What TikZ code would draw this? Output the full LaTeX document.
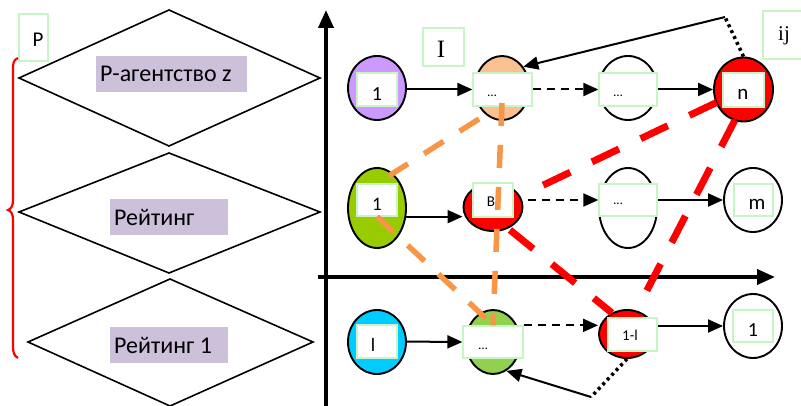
\documentclass[tikz,border=0pt]{standalone}
\usepackage{fontspec}
\setmainfont{Carlito}
\newfontfamily\timesf{Liberation Serif}
\usetikzlibrary{shapes.geometric,arrows.meta,calc}
\pgfdeclarelayer{bg}
\pgfsetlayers{bg,main}
\definecolor{bxg}{RGB}{200,245,200}
\definecolor{lilac}{RGB}{204,192,218}
\definecolor{purp}{RGB}{204,153,255}
\definecolor{peach}{RGB}{250,192,143}
\definecolor{lime}{RGB}{153,204,0}
\definecolor{lgreen}{RGB}{146,208,80}
\definecolor{cyanb}{RGB}{0,204,255}
\definecolor{orng}{RGB}{247,150,70}
\begin{document}
\begin{tikzpicture}[x=1pt,y=-1pt,
  ell/.style={ellipse,draw,line width=1.9pt,inner sep=0pt},
  bx/.style={draw=bxg,fill=white,line width=1.3pt,inner sep=0pt},
  lab/.style={fill=lilac,inner xsep=4pt,inner ysep=0pt,minimum height=36pt,font=\fontsize{24}{26}\selectfont},
  tagbox/.style={draw=bxg,fill=white,line width=1.3pt,inner sep=0pt},
  tx/.style={inner sep=0pt},
  dotsx/.style={inner sep=0pt,anchor=base,font=\fontsize{13}{13}\selectfont},
  arr/.style={line width=2pt,-{Triangle[length=15pt,width=13pt]}},
  darr/.style={line width=2pt,dash pattern=on 8pt off 6pt,-{Triangle[length=15pt,width=13pt]}},
  axisarr/.style={line width=3.8pt,-{Triangle[length=18pt,width=15pt]}},
  dotl/.style={line width=3.5pt,dash pattern=on 3pt off 3.5pt},
  orl/.style={draw=orng,line width=5.5pt,dash pattern=on 23pt off 19pt},
  rdl/.style={draw=red,line width=7pt,dash pattern=on 30pt off 24pt}]
\useasboundingbox (0,0) rectangle (801,406);

% diamonds
\draw[line width=1.6pt] (19,78) -- (169,10) -- (320,78) -- (169,146) -- cycle;
\draw[line width=1.6pt] (19,212) -- (169,153) -- (320,212) -- (169,273) -- cycle;
\draw[line width=1.6pt] (28,342) -- (170,279) -- (313,342) -- (170,406) -- cycle;
\node[lab] (l1) at (171.5,74) {\makebox[143pt][l]{Р-агентство z}};
\node[lab] (l2) at (169,217) {\makebox[110pt][l]{Рейтинг}};
\node[lab] (l3) at (169,345) {\makebox[110pt][l]{Рейтинг 1}};

% P box and brace
\node[tagbox,minimum width=29pt,minimum height=47pt] (pbox) at (33.5,37.5) {};
\node[tx,font=\fontsize{21}{21}\selectfont] (ptxt) at (38,40) {P};
\draw[red,line width=2.2pt] (18,58) .. controls (13,60) and (13,64) .. (13,70) -- (13,200)
  .. controls (13,206) and (11,209) .. (8,210) .. controls (11,211) and (13,214) .. (13,220)
  -- (13,346) .. controls (13,352) and (14,356) .. (18,358);

% axes
\coordinate (yb) at (326,406);
\coordinate (yt) at (326,10);
\coordinate (xl) at (318,277);
\coordinate (xr) at (775,277);
\draw[axisarr] (yb) -- (yt);
\draw[axisarr] (xl) -- (xr);

% I and ij
\node[tagbox,minimum width=41pt,minimum height=38pt] (ibox) at (443.5,47) {};
\node[tx,font=\timesf\fontsize{25}{25}\selectfont] (itxt) at (441,49) {I};
\node[tagbox,minimum width=40pt,minimum height=48pt] (ijbox) at (783,35) {};
\node[tx,font=\timesf\fontsize{21}{21}\selectfont] (ijtxt) at (784,36) {ij};

% row 1
\node[ell,fill=purp,minimum width=58pt,minimum height=64pt] (a1) at (377,88) {};
\node[bx,minimum width=40pt,minimum height=33pt] (a1b) at (377,89.5) {};
\node[ell,fill=peach,minimum width=54pt,minimum height=64pt] (b1) at (502,88) {};
\node[bx,minimum width=59pt,minimum height=33pt] (b1b) at (502.5,89.5) {};
\node[ell,fill=white,minimum width=58pt,minimum height=64pt] (c1) at (628,88) {};
\node[bx,minimum width=58pt,minimum height=33pt] (c1b) at (628,89.5) {};
\node[ell,fill=red,minimum width=59pt,minimum height=64pt] (d1) at (743.5,89.5) {};
\node[bx,minimum width=41pt,minimum height=34pt] (d1b) at (743.5,90) {};
% row 2
\node[ell,fill=lime,minimum width=58pt,minimum height=80pt] (a2) at (377,208) {};
\node[bx,minimum width=40pt,minimum height=32pt] (a2b) at (377,200) {};
\node[ell,fill=red,minimum width=59pt,minimum height=48pt] (b2) at (493,207) {};
\node[bx,minimum width=40pt,minimum height=34pt] (b2b) at (493,200) {};
\node[ell,fill=white,minimum width=58pt,minimum height=80pt] (c2) at (628,208) {};
\node[bx,minimum width=58pt,minimum height=32pt] (c2b) at (628,200) {};
\node[ell,fill=white,minimum width=58pt,minimum height=64pt] (d2) at (753,200) {};
\node[bx,minimum width=39pt,minimum height=32pt] (d2b) at (753.5,200) {};
% row 3
\node[ell,fill=cyanb,minimum width=58pt,minimum height=64pt] (a3) at (377,342) {};
\node[bx,minimum width=40pt,minimum height=33pt] (a3b) at (377,341.5) {};
\node[ell,fill=lgreen,minimum width=54pt,minimum height=64pt] (b3) at (493,342) {};
\node[bx,minimum width=60pt,minimum height=32pt] (b3b) at (493,342) {};
\node[ell,fill=red,minimum width=56pt,minimum height=48pt] (c3) at (627,334) {};
\node[bx,minimum width=49pt,minimum height=33pt] (c3b) at (632.5,334.5) {};
\node[ell,fill=white,minimum width=58pt,minimum height=64pt] (d3) at (753,326) {};
\node[bx,minimum width=40pt,minimum height=32pt] (d3b) at (753,326) {};

% texts
\node[tx,font=\fontsize{20}{20}\selectfont] (a1t) at (377,94) {1};
\node[dotsx] (b1t) at (492,97) {…};
\node[dotsx] (c1t) at (618,97) {…};
\node[tx,font=\fontsize{21}{21}\selectfont] (d1t) at (743,94.5) {n};
\node[tx,font=\fontsize{19}{19}\selectfont] (a2t) at (377,204) {1};
\node[tx,font=\fontsize{15}{15}\selectfont] (b2t) at (491,202) {B};
\node[dotsx] (c2t) at (618,205) {…};
\node[tx,font=\fontsize{21}{21}\selectfont] (d2t) at (757,204) {m};
\node[tx,font=\fontsize{19}{19}\selectfont] (a3t) at (373,345) {l};
\node[dotsx] (b3t) at (483,349) {…};
\node[tx,font=\fontsize{15}{15}\selectfont] (c3t) at (630,335) {1-l};
\node[tx,font=\fontsize{20}{20}\selectfont] (d3t) at (753,330) {1};

% connectors behind nodes
\begin{pgfonlayer}{bg}
\draw[arr] (a1b.east) -- (b1b.west);
\draw[darr] (b1b.east) -- (c1b.west);
\draw[arr] (c1b.east) -- (d1.west);
\draw[arr] (a2b.south east) -- (a2b.south east -| b2.west);
\draw[darr] (b2b.east) -- (c2b.west);
\draw[arr] (c2b.east) -- (d2.west);
\draw[arr] (a3b.east) -- (b3b.west);
\draw[darr] (b3b.north east) -- (b3b.north east -| c3.west);
\draw[arr] (c3.east |- d3.west) -- (d3.west);
\end{pgfonlayer}

% dashed relation lines
\draw[orl] ($(b1)+(0,15)$) -- (b3b.north);
\draw[orl] ($(b1)+(-23,31)$) -- (a2b.north);
\draw[orl] (a2b.south) -- ($(b3b.north)+(-6,-6)$);
\draw[rdl] ($(d1)+(-27,13)$) -- ($(b2)+(40,-17)$);
\draw[rdl] ($(d1)+(-8.5,30.5)$) -- ($(c3)+(16,-36)$);
\draw[rdl] ($(b2)+(17,23)$) -- ($(c3)+(-15,-21)$);

% feedback arrows
\coordinate (fb1) at (725,17);
\draw[dotl] (d1.north) -- (fb1);
\draw[arr] (fb1) -- (b1.45);
\coordinate (fb2) at (591,397);
\draw[dotl] (c3.south) -- (fb2);
\draw[arr] (fb2) -- (b3.-65);
\end{tikzpicture}
\end{document}
